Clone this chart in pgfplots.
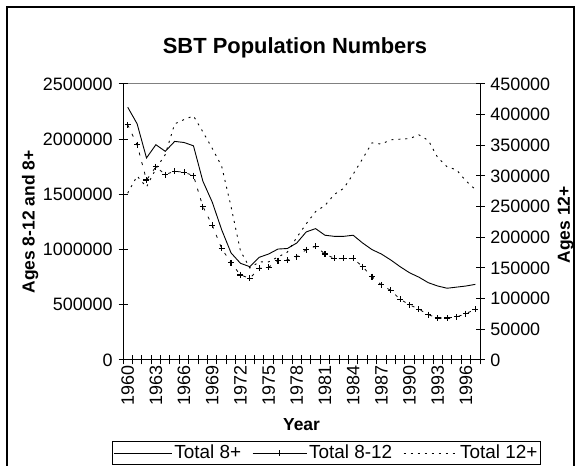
\documentclass[border=0pt]{standalone}
\usepackage{pgfplots}
\pgfplotsset{compat=1.18}
\usepackage{pgfplotstable}
\usepackage{fontspec}
\setmainfont{Liberation Sans}

\pgfplotstableread{
year a8 a812 a12
1960 2290000 2130000 272000
1961 2140000 1950000 300000
1962 1830000 1630000 282000
1963 1950000 1750000 312000
1964 1890000 1680000 335000
1965 1980000 1710000 385000
1966 1970000 1700000 392000
1967 1940000 1670000 398000
1968 1620000 1390000 372000
1969 1430000 1220000 345000
1970 1180000 1010000 316000
1971 970000 880000 250000
1972 876000 770000 178000
1973 845000 740000 150000
1974 930000 830000 160000
1975 960000 840000 160000
1976 1005000 900000 168000
1977 1010000 905000 176000
1978 1060000 935000 200000
1979 1160000 1000000 222000
1980 1190000 1030000 242000
1981 1130000 960000 252000
1982 1120000 920000 270000
1983 1120000 920000 280000
1984 1130000 920000 303000
1985 1060000 845000 328000
1986 1000000 755000 354000
1987 960000 680000 352000
1988 906000 630000 359000
1989 845000 550000 360000
1990 790000 500000 361000
1991 750000 460000 367000
1992 700000 410000 358000
1993 670000 380000 330000
1994 650000 380000 315000
1995 660000 390000 310000
1996 670000 420000 292000
1997 685000 460000 278000
}\datatable

\pgfplotsset{
  legsolid/.style={legend image code/.code={\draw[##1] (0bp,0bp) -- (58bp,0bp);}},
  legmark/.style={legend image code/.code={\draw[##1,mark repeat=2,mark phase=2] plot coordinates {(0bp,0bp) (27bp,0bp) (54bp,0bp)};}},
  legdot/.style={legend image code/.code={\draw[##1] (0bp,0bp) -- (54bp,0bp);}},
  common/.style={
    at={(123bp,106bp)}, anchor=south west,
    scale only axis, width=357bp, height=276bp,
    xmin=1959.5, xmax=1997.5,
    tick align=center, major tick length=9bp,
    tick style={black, line width=1bp},
    axis line style={black, line width=1bp},
    scaled y ticks=false,
    /pgf/number format/.cd, fixed, precision=0, 1000 sep={}, assume math mode=true,
    /pgfplots/.cd,
    tick label style={font=\fontsize{18}{21}\selectfont},
    label style={font=\fontsize{17.5}{21}\selectfont\bfseries},
  }
}

\begin{document}
\fontsize{17}{20}\selectfont
\begin{tikzpicture}[x=1bp,y=1bp]
\useasboundingbox (0,0) rectangle (581,466);
\draw[line width=1.2bp] (7,0) -- (7,459) -- (574,459) -- (574,0);
\node[font=\fontsize{22}{26}\selectfont\bfseries] at (295,418) {SBT Population Numbers};
\draw[gray, line width=1bp] (123,382) -- (480,382);

\begin{axis}[common,
  ymin=0, ymax=2500000,
  axis x line*=bottom, axis y line*=left,
  ytick={0,500000,...,2500000},
  xtick={1959.5,1960.5,...,1997.6}, xticklabels={},
  extra x ticks={1960,1963,...,1996},
  extra x tick style={major tick length=0bp, tick label style={rotate=90, anchor=east}},
  xlabel={Year},
  xlabel style={at={(axis description cs:0.5,-0.235)}, anchor=center},
  ylabel={Ages 8-12 and 8+},
  ylabel style={at={(axis description cs:-0.26,0.5)}, anchor=center},
]
\addplot[black, line width=0.9bp, no markers] table[x=year, y=a8] {\datatable};
\addplot[black, line width=0.8bp, dash pattern=on 3bp off 7bp, mark=+, mark size=3bp, mark options={solid, line width=1.1bp}] table[x=year, y=a812] {\datatable};
\end{axis}

\begin{axis}[common,
  ymin=0, ymax=450000,
  axis y line*=right, axis x line=none,
  ytick={0,50000,...,450000},
  ylabel={Ages 12+},
  ylabel style={at={(axis description cs:1.24,0.49)}, anchor=center},
  legend columns=3,
  legend style={at={(axis description cs:0.57,-0.337)}, anchor=center, draw=black, line width=1bp, fill=white, font=\fontsize{19}{22}\selectfont, inner sep=1bp, /tikz/every even column/.append style={column sep=9bp}},
  legend cell align=left,
]
\addlegendimage{black, line width=0.9bp, legsolid}
\addlegendentry{Total 8+}
\addlegendimage{black, line width=0.9bp, mark=+, mark size=3bp, legmark}
\addlegendentry{Total 8-12}
\addplot[black, line width=0.9bp, dash pattern=on 2bp off 5bp, no markers, legdot] table[x=year, y=a12] {\datatable};
\addlegendentry{Total 12+}
\end{axis}
\end{tikzpicture}
\end{document}
